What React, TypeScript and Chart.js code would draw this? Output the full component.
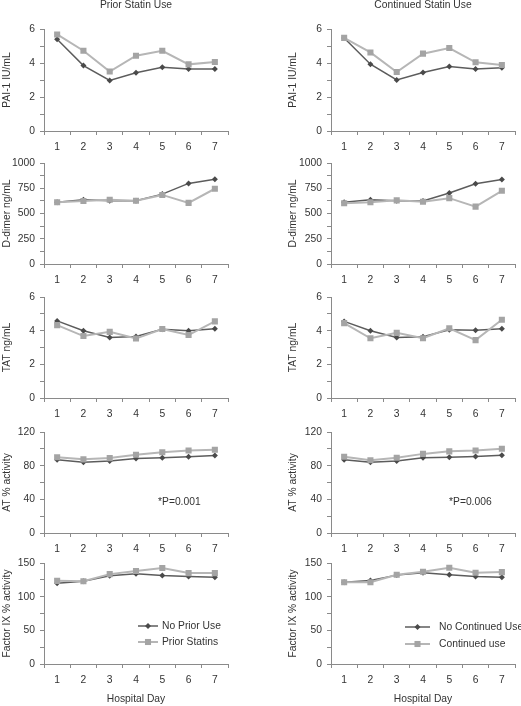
import React, { useEffect, useRef } from 'react';
import { Chart, registerables } from 'chart.js';

Chart.register(...registerables);

// ---------- data ----------
const days = ['1', '2', '3', '4', '5', '6', '7'];

const paiNoPrior = [5.4, 3.85, 2.97, 3.43, 3.75, 3.64, 3.64];
const paiPrior = [5.68, 4.72, 3.5, 4.43, 4.72, 3.92, 4.06];
const paiNoCont = [5.47, 3.93, 3.0, 3.44, 3.8, 3.64, 3.72];
const paiCont = [5.48, 4.62, 3.47, 4.55, 4.88, 4.04, 3.88];

const ddNoPrior = [612, 635, 627, 627, 692, 798, 838];
const ddPrior = [612, 624, 636, 627, 684, 605, 745];
const ddNoCont = [612, 636, 627, 624, 703, 795, 836];
const ddCont = [601, 612, 630, 617, 652, 568, 725];

const tatNoPrior = [4.58, 4.0, 3.6, 3.66, 4.08, 4.0, 4.12];
const tatPrior = [4.33, 3.68, 3.93, 3.53, 4.1, 3.74, 4.55];
const tatNoCont = [4.55, 4.0, 3.6, 3.64, 4.06, 4.03, 4.12];
const tatCont = [4.45, 3.55, 3.87, 3.55, 4.14, 3.44, 4.65];

const atNoPrior = [87, 84, 85.5, 88.5, 89.5, 90.5, 92];
const atPrior = [90, 87.5, 89, 93, 96, 98, 99];
const atNoCont = [87, 84, 85.5, 89.5, 90, 91, 92.5];
const atCont = [90.5, 86.5, 89.5, 94, 97, 98, 100];

const f9NoPrior = [120, 123, 131, 134, 131.5, 130, 129];
const f9Prior = [123.5, 123, 133.5, 138, 142.5, 135, 135];
const f9NoCont = [121.5, 124, 132, 135.5, 132.5, 130, 129];
const f9Cont = [121.5, 121.5, 132.5, 137, 143, 135.5, 136.5];

const yTitles = ['PAI-1 IU/mL', 'D-dimer ng/mL', 'TAT ng/mL', 'AT % activity', 'Factor IX % activity'];
const yMax = [6, 1000, 6, 120, 150];
const yStep = [1, 125, 1, 20, 25];
const yLabelEvery = [2, 250, 2, 40, 50];

const columnTitles = ['Prior Statin Use', 'Continued Statin Use'];
const darkLabels = ['No Prior Use', 'No Continued Use'];
const lightLabels = ['Prior Statins', 'Continued use'];
const pNotes = ['*P=0.001', '*P=0.006'];
const xTitle = 'Hospital Day';

const leftSeries = [
  [paiNoPrior, paiPrior],
  [ddNoPrior, ddPrior],
  [tatNoPrior, tatPrior],
  [atNoPrior, atPrior],
  [f9NoPrior, f9Prior],
];
const rightSeries = [
  [paiNoCont, paiCont],
  [ddNoCont, ddCont],
  [tatNoCont, tatCont],
  [atNoCont, atCont],
  [f9NoCont, f9Cont],
];

// ---------- style / layout ----------
const FONT = '"Liberation Sans", Arial, sans-serif';
const FS = 10.3;
const TEXT = '#333333';
const AXIS = '#8a8a8a';
const DARK_LINE = '#5c5c5c';
const DARK_PT = '#4a4a4a';
const LIGHT_LINE = '#b6b6b6';
const LIGHT_PT = '#a4a4a4';

const chartTops = [29, 163, 297, 432, 563];
const chartBottoms = [131, 264, 398, 533, 664];
const TOP_PAD = 29;
const BOTTOM_AREA = 42;

const columns = [
  { x: 0, w: 260, axisW: 44, chartRight: 228, yTitlePad: 1, noteDx: 114, legLine: [94, 114], legText: 118, legRows: [63, 79] },
  { x: 260, w: 261, axisW: 71, chartRight: 255, yTitlePad: 27, noteDx: 118, legLine: [74, 99], legText: 108, legRows: [64, 81] },
];

const extrasPlugin = {
  id: 'extras',
  afterDraw(chart: any, _args: any, opts: any) {
    const ctx = chart.ctx as CanvasRenderingContext2D;
    const ca = chart.chartArea;
    ctx.save();
    ctx.font = `${FS}px ${FONT}`;
    ctx.fillStyle = TEXT;
    if (opts.title) {
      ctx.textAlign = 'center';
      ctx.textBaseline = 'middle';
      ctx.fillText(opts.title, (ca.left + ca.right) / 2, ca.top - 24);
    }
    if (opts.note) {
      ctx.textAlign = 'left';
      ctx.textBaseline = 'middle';
      ctx.fillText(opts.note, ca.left + opts.noteDx, ca.top + 70.5);
    }
    if (opts.legend) {
      const L = opts.legend;
      const ds = chart.data.datasets;
      const order = [1, 0]; // dark first, then light
      order.forEach((di: number, row: number) => {
        const d = ds[di];
        const y = ca.top + L.rows[row];
        const x0 = ca.left + L.line[0];
        const x1 = ca.left + L.line[1];
        ctx.strokeStyle = d.borderColor;
        ctx.lineWidth = d.borderWidth;
        ctx.beginPath();
        ctx.moveTo(x0, y);
        ctx.lineTo(x1, y);
        ctx.stroke();
        const cx = (x0 + x1) / 2;
        ctx.fillStyle = d.pointBackgroundColor;
        ctx.beginPath();
        if (d.pointStyle === 'rectRot') {
          const r = d.pointRadius;
          ctx.moveTo(cx, y - r);
          ctx.lineTo(cx + r, y);
          ctx.lineTo(cx, y + r);
          ctx.lineTo(cx - r, y);
          ctx.closePath();
        } else {
          const s = d.pointRadius * Math.SQRT1_2;
          ctx.rect(cx - s, y - s, 2 * s, 2 * s);
        }
        ctx.fill();
        ctx.fillStyle = TEXT;
        ctx.textAlign = 'left';
        ctx.textBaseline = 'middle';
        ctx.fillText(d.label, ca.left + L.text, y);
      });
    }
    ctx.restore();
  },
};

type PanelProps = { col: number; row: number };

function Panel({ col, row }: PanelProps) {
  const ref = useRef<HTMLCanvasElement | null>(null);
  const c = columns[col];
  const chartTop = chartTops[row];
  const chartBottom = chartBottoms[row];
  const canvasTop = chartTop - TOP_PAD;
  const canvasH = TOP_PAD + (chartBottom - chartTop) + BOTTOM_AREA;

  useEffect(() => {
    const series = col === 0 ? leftSeries[row] : rightSeries[row];
    const every = yLabelEvery[row];
    const isLast = row === 4;
    const chart = new Chart(ref.current as HTMLCanvasElement, {
      type: 'line',
      data: {
        labels: days,
        datasets: [
          {
            label: lightLabels[col],
            data: series[1],
            borderColor: LIGHT_LINE,
            backgroundColor: LIGHT_PT,
            borderWidth: 2,
            pointStyle: 'rect',
            pointRadius: 4.3,
            pointBackgroundColor: LIGHT_PT,
            pointBorderWidth: 0,
            pointBorderColor: LIGHT_PT,
            tension: 0,
            order: 0,
          } as any,
          {
            label: darkLabels[col],
            data: series[0],
            borderColor: DARK_LINE,
            backgroundColor: DARK_PT,
            borderWidth: 1.5,
            pointStyle: 'rectRot',
            pointRadius: 3,
            pointBackgroundColor: DARK_PT,
            pointBorderWidth: 0,
            pointBorderColor: DARK_PT,
            tension: 0,
            order: 1,
          } as any,
        ],
      },
      options: {
        animation: false,
        responsive: false,
        events: [],
        layout: { padding: { top: TOP_PAD, left: 0, bottom: 0, right: c.w - c.chartRight } },
        plugins: {
          legend: { display: false },
          title: { display: false },
          tooltip: { enabled: false },
          extras: {
            title: row === 0 ? columnTitles[col] : null,
            note: row === 3 ? pNotes[col] : null,
            noteDx: c.noteDx,
            legend: isLast ? { line: c.legLine, text: c.legText, rows: c.legRows } : null,
          },
        } as any,
        scales: {
          x: {
            type: 'category',
            offset: true,
            afterFit: (s: any) => {
              s.height = BOTTOM_AREA;
            },
            grid: {
              display: true,
              offset: true,
              drawOnChartArea: false,
              drawTicks: true,
              tickLength: 4,
              color: AXIS,
            },
            border: { display: true, color: AXIS, width: 1 },
            ticks: {
              font: { family: FONT, size: FS },
              color: TEXT,
              padding: 6,
              maxRotation: 0,
              autoSkip: false,
            },
            title: {
              display: isLast,
              text: xTitle,
              font: { family: FONT, size: FS },
              color: TEXT,
              padding: { top: 0, bottom: 1 },
            },
          },
          y: {
            type: 'linear',
            min: 0,
            max: yMax[row],
            afterFit: (s: any) => {
              s.width = c.axisW;
            },
            grid: {
              display: true,
              drawOnChartArea: false,
              drawTicks: true,
              tickLength: 4,
              color: AXIS,
            },
            border: { display: true, color: AXIS, width: 1 },
            ticks: {
              stepSize: yStep[row],
              autoSkip: false,
              font: { family: FONT, size: FS },
              color: TEXT,
              padding: 5,
              callback: (v: any) => (Number(v) % every === 0 ? String(v) : ''),
            },
            title: {
              display: true,
              text: yTitles[row],
              font: { family: FONT, size: FS },
              color: TEXT,
              padding: { top: c.yTitlePad, bottom: 0 },
            },
          },
        },
      } as any,
      plugins: [extrasPlugin],
    });
    return () => chart.destroy();
  }, [col, row]);

  return (
    <canvas
      ref={ref}
      width={c.w}
      height={canvasH}
      style={{ position: 'absolute', left: c.x, top: canvasTop, width: c.w, height: canvasH }}
    />
  );
}

export default function App() {
  const panels: JSX.Element[] = [];
  for (let col = 0; col < 2; col++) {
    for (let row = 0; row < 5; row++) {
      panels.push(<Panel key={`${col}-${row}`} col={col} row={row} />);
    }
  }
  return (
    <div style={{ position: 'absolute', left: 0, top: 0, width: 521, height: 706, background: '#ffffff', overflow: 'hidden' }}>
      {panels}
    </div>
  );
}
